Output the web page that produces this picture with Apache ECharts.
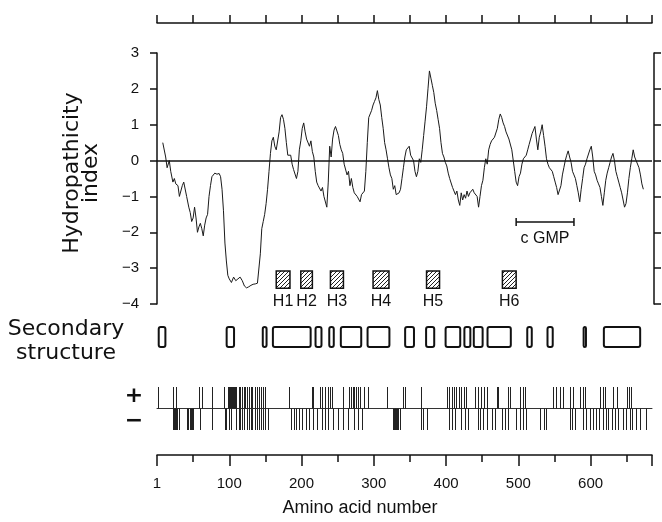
<!DOCTYPE html>
<html><head><meta charset="utf-8">
<script src="https://cdn.jsdelivr.net/npm/echarts@6/dist/echarts.min.js"></script>
<style>html,body{margin:0;padding:0;background:#fff}#c{width:662px;height:522px}</style>
</head><body><div id="c"></div>
<script>
// ---- data ----
const hydroRes = [8,10,12,14,15,17,19,22,24,26,29,31,33,35,37,39,41,44,46,48,50,52,54,56,58,60,62,64,66,68,70,72,74,76,78,80,83,86,88,90,92,94,96,98,100,103,106,109,112,115,118,121,124,127,130,133,136,139,141,143,145,147,149,151,153,155,157,159,161,163,165,167,169,171,173,175,177,179,181,183,185,187,189,191,193,195,197,199,201,203,205,207,209,211,213,215,217,219,221,223,225,227,229,231,233,235,237,239,241,243,245,247,249,251,253,255,257,259,261,263,265,267,269,271,273,275,277,279,281,283,285,287,289,291,293,295,297,299,301,303,305,307,309,311,313,315,317,319,321,323,325,327,329,331,333,335,337,339,341,343,345,347,349,351,353,355,357,359,361,363,365,367,369,371,373,375,377,379,381,383,385,387,389,391,393,395,397,399,401,403,405,407,409,411,413,415,417,419,421,423,425,427,429,431,433,435,437,439,441,443,445,447,449,451,453,455,457,459,461,463,465,467,469,471,473,475,477,479,481,483,485,487,489,491,493,495,497,499,501,503,505,507,509,511,513,515,517,519,521,523,525,527,529,531,533,535,537,539,541,543,545,547,549,551,553,555,557,559,561,563,565,567,569,571,573,575,577,579,581,583,585,587,589,591,593,595,597,599,601,603,605,607,609,611,613,615,617,619,621,623,625,627,629,631,633,635,637,639,641,643,645,647,649,651,653,655,657,659,661,663,665,667,669,671,673];
const hydroVal = [0.5,0.45,0.1,-0.2,-0.25,0.0,-0.3,-0.6,-0.5,-0.65,-0.7,-1.0,-0.95,-0.7,-0.6,-0.65,-1.0,-1.3,-1.45,-1.7,-1.6,-1.3,-1.6,-2.0,-1.85,-1.75,-1.9,-2.1,-1.8,-1.6,-1.5,-1.0,-0.7,-0.45,-0.4,-0.35,-0.38,-0.36,-0.45,-0.8,-1.4,-2.3,-2.8,-3.2,-3.3,-3.4,-3.25,-3.35,-3.3,-3.25,-3.35,-3.5,-3.55,-3.52,-3.48,-3.45,-3.44,-3.42,-3.4,-2.6,-1.9,-1.7,-1.5,-1.2,-0.8,-0.3,0.2,0.55,0.65,0.4,0.3,0.35,0.8,1.2,1.28,1.15,0.9,0.5,0.15,0.1,0.15,-0.1,-0.25,-0.2,-0.5,-0.3,0.3,0.55,0.9,1.05,0.8,0.6,0.55,0.4,0.55,0.25,0.1,-0.3,-0.6,-0.7,-0.65,-0.85,-0.75,-1.0,-1.05,-1.3,-0.6,0.4,0.1,0.6,0.85,0.95,0.9,0.7,0.45,0.3,0.2,-0.1,-0.05,-0.4,-0.3,-0.7,-0.5,-0.75,-0.9,-0.85,-1.0,-1.05,-1.15,-0.95,-0.9,-0.85,-0.3,0.5,1.2,1.3,1.4,1.55,1.65,1.75,1.95,1.7,1.55,1.2,0.9,0.5,0.3,0.05,-0.2,-0.4,-0.5,-0.8,-0.7,-0.95,-1.0,-0.9,-0.8,-0.5,-0.2,0.1,0.3,0.25,0.4,0.15,0.2,0.0,-0.3,-0.45,-0.3,0.05,-0.05,0.3,0.7,1.1,1.5,2.0,2.5,2.3,2.1,1.9,1.6,1.4,1.15,0.9,0.5,0.2,0.1,-0.05,-0.15,-0.35,-0.5,-0.45,-0.75,-0.8,-0.95,-0.85,-1.1,-1.25,-0.9,-1.1,-0.95,-1.05,-0.85,-1.0,-0.9,-0.95,-0.8,-0.9,-0.95,-1.0,-1.3,-1.0,-0.7,-0.55,-0.2,0.05,-0.1,0.3,0.45,0.55,0.5,0.65,0.6,0.9,1.15,1.3,1.2,1.05,0.95,0.8,0.75,0.6,0.55,0.3,0.0,-0.3,-0.6,-0.7,-0.45,-0.35,-0.1,0.05,0.1,0.15,0.3,0.45,0.6,0.75,0.85,0.95,0.6,0.3,0.65,0.8,1.0,0.7,0.4,0.05,-0.1,-0.2,-0.15,-0.3,-0.45,-0.6,-0.75,-0.95,-1.0,-0.7,-0.4,-0.2,0.0,0.15,0.27,0.1,-0.05,-0.3,-0.4,-0.5,-0.7,-0.9,-1.15,-0.8,-0.5,-0.2,-0.1,0.05,0.1,0.3,0.4,0.1,-0.3,-0.4,-0.55,-0.65,-0.75,-1.0,-1.25,-0.9,-0.55,-0.35,-0.2,-0.05,0.1,0.2,0.0,-0.3,-0.45,-0.6,-0.75,-0.9,-1.1,-1.3,-1.2,-0.9,-0.5,-0.2,0.05,0.3,0.1,0.0,-0.05,-0.2,-0.4,-0.65,-0.8];

const helixLabels = ['H1','H2','H3','H4','H5','H6'];
const helixStart = [165,199,240,299,373,478];
const helixEnd   = [184,215,258,321,391,497];

const cgmpStart = 497, cgmpEnd = 577, cgmpLabel = 'c GMP';

const secStart = [1,95,145,159,218,237,253,290,342,371,398,424,437,456,511,539,589,617];
const secEnd   = [13,108,153,214,229,246,284,323,357,385,421,435,452,491,520,549,595,670];

const posCharges = [2,22,26,58,62,76,93,98,99,100,101,102,103,104,105,106,107,108,110,113,115,117,120,122,125,127,130,132,135,138,141,144,147,149,182,214,216,226,229,232,236,239,242,258,266,268,271,273,276,278,281,286,292,318,340,343,366,401,404,408,411,414,418,421,425,428,440,444,448,452,456,470,472,486,489,502,506,509,548,552,557,562,571,575,585,589,592,613,617,620,631,636,650,653,656];
const negCharges = [22,23,24,25,26,27,30,41,42,43,45,47,48,50,60,76,94,95,96,99,102,110,113,115,118,121,124,127,130,132,135,138,141,144,147,150,154,186,189,193,196,200,206,211,216,221,228,232,237,244,251,258,265,272,278,283,327,328,329,330,331,332,334,336,366,368,373,404,408,412,421,426,431,444,447,451,456,463,468,477,481,486,497,502,506,511,530,535,539,571,574,578,589,594,599,603,608,612,617,621,624,629,634,638,645,649,654,658,663,668,677];

const xTicksLabelled = [100,200,300,400,500,600];

// ---- chart ----
const XMAX = 685;
const LBL_FONT = '"Liberation Sans Narrow","Liberation Sans",Arial,sans-serif';
const chart = echarts.init(document.getElementById('c'), null, {renderer:'canvas'});

const hatch = document.createElement('canvas');
hatch.width = 4; hatch.height = 4;
(function(){const g=hatch.getContext('2d');g.fillStyle='#fff';g.fillRect(0,0,4,4);g.strokeStyle='#222';g.lineWidth=1;
g.beginPath();g.moveTo(-1,5);g.lineTo(5,-1);g.stroke();})();

const blackLine = {show:true, lineStyle:{color:'#111', width:1.5}};
const gl = 157, gw = 495;

const option = {
  animation:false,
  backgroundColor:'#fff',
  grid:[
    {left:gl, width:gw, top:13, height:10},
    {left:gl, width:gw, top:53, height:251},
    {left:gl, width:gw, top:326, height:22},
    {left:gl, width:gw, top:387, height:43},
    {left:gl, width:gw, top:445, height:10}
  ],
  xAxis:[
    {gridIndex:0, type:'value', min:0, max:XMAX, interval:50, position:'bottom', axisLine:blackLine,
     axisTick:{show:true, inside:true, length:8, lineStyle:{color:'#111', width:1.5}}, axisLabel:{show:false}, splitLine:{show:false}},
    {gridIndex:1, type:'value', min:0, max:XMAX, show:false},
    {gridIndex:2, type:'value', min:0, max:XMAX, show:false},
    {gridIndex:3, type:'value', min:0, max:XMAX, axisLine:{show:true, onZero:true, lineStyle:{color:'#333', width:1}},
     axisTick:{show:false}, axisLabel:{show:false}, splitLine:{show:false}},
    {gridIndex:4, type:'value', min:0, max:XMAX, interval:100, position:'bottom', axisLine:blackLine,
     axisTick:{show:true, length:11, lineStyle:{color:'#111', width:1.5}},
     axisLabel:{show:true, margin:21, fontSize:15, color:'#111', fontFamily:LBL_FONT,
       formatter:v => v===0 ? '1' : (xTicksLabelled.indexOf(v)>=0 ? String(v) : '')},
     splitLine:{show:false}},
    {gridIndex:4, type:'value', min:0, max:XMAX, interval:50, position:'bottom', axisLine:{show:false},
     axisTick:{show:true, length:7, lineStyle:{color:'#111', width:1.5}}, axisLabel:{show:false}, splitLine:{show:false}}
  ],
  yAxis:[
    {gridIndex:0, show:false, min:0, max:1},
    {gridIndex:1, type:'value', min:-4, max:3, interval:1, position:'left', offset:2, axisLine:blackLine,
     axisTick:{show:true, length:7, lineStyle:{color:'#111', width:1.5}},
     axisLabel:{show:true, margin:16, fontSize:15, color:'#111', fontFamily:LBL_FONT, formatter:v => String(v).replace('-','\u2212')},
     splitLine:{show:false}},
    {gridIndex:1, type:'value', min:-4, max:3, interval:1, position:'right', offset:2, axisLine:blackLine,
     axisTick:{show:true, length:7, lineStyle:{color:'#111', width:1.5}}, axisLabel:{show:false}, splitLine:{show:false}},
    {gridIndex:2, show:false, min:0, max:1},
    {gridIndex:3, show:false, min:-1, max:1},
    {gridIndex:4, show:false, min:0, max:1}
  ],
  series:[
    {type:'line', xAxisIndex:1, yAxisIndex:1, showSymbol:false, symbol:'none',
     data: hydroRes.map((r,i)=>[r, hydroVal[i]]),
     lineStyle:{color:'#1a1a1a', width:1},
     markLine:{silent:true, symbol:'none', label:{show:false}, lineStyle:{color:'#111', width:1.5, type:'solid'},
       data:[{yAxis:0}]}},
    {type:'custom', xAxisIndex:1, yAxisIndex:1,
     data: helixStart.map((s,i)=>[s, helixEnd[i]]),
     renderItem:(params, api)=>{
       const p0 = api.coord([api.value(0), -3.08]);
       const p1 = api.coord([api.value(1), -3.56]);
       const pm = api.coord([(api.value(0)+api.value(1))/2, -3.92]);
       return {type:'group', children:[
         {type:'rect', shape:{x:p0[0], y:p0[1], width:p1[0]-p0[0], height:p1[1]-p0[1]},
          style:{fill:{image:hatch, repeat:'repeat'}, stroke:'#111', lineWidth:1.5}},
         {type:'text', x:pm[0], y:pm[1], style:{text:helixLabels[params.dataIndex], fill:'#111',
           font:'16px '+LBL_FONT, textAlign:'center', textVerticalAlign:'middle'}}
       ]};
     }},
    {type:'custom', xAxisIndex:1, yAxisIndex:1, data:[[cgmpStart, cgmpEnd]],
     renderItem:(params, api)=>{
       const a = api.coord([api.value(0), -1.71]);
       const b = api.coord([api.value(1), -1.71]);
       const t = api.coord([(api.value(0)+api.value(1))/2, -2.17]);
       const st = {stroke:'#111', lineWidth:1.5};
       return {type:'group', children:[
         {type:'line', shape:{x1:a[0], y1:a[1], x2:b[0], y2:b[1]}, style:st},
         {type:'line', shape:{x1:a[0], y1:a[1]-4, x2:a[0], y2:a[1]+4}, style:st},
         {type:'line', shape:{x1:b[0], y1:b[1]-4, x2:b[0], y2:b[1]+4}, style:st},
         {type:'text', x:t[0], y:t[1], style:{text:cgmpLabel, fill:'#111', font:'16px "Liberation Sans",Arial,sans-serif',
           textAlign:'center', textVerticalAlign:'middle'}}
       ]};
     }},
    {type:'custom', xAxisIndex:2, yAxisIndex:3,
     data: secStart.map((s,i)=>[s, secEnd[i]]),
     renderItem:(params, api)=>{
       const p0 = api.coord([api.value(0), 1]);
       const p1 = api.coord([api.value(1), 0]);
       return {type:'rect', shape:{x:p0[0]+1, y:p0[1]+1, width:p1[0]-p0[0]-2, height:p1[1]-p0[1]-2, r:2},
         style:{fill:'#fff', stroke:'#111', lineWidth:2}};
     }},
    {type:'custom', xAxisIndex:3, yAxisIndex:4,
     data: posCharges.map(r=>[r, 1]).concat(negCharges.map(r=>[r, -1])),
     renderItem:(params, api)=>{
       const a = api.coord([api.value(0), 0]);
       const b = api.coord([api.value(0), api.value(1)]);
       const x = Math.round(a[0]) + 0.5;
       return {type:'line', shape:{x1:x, y1:a[1], x2:x, y2:b[1]}, style:{stroke:'#222', lineWidth:1}};
     }}
  ],
  graphic:[
    {type:'text', x:72, y:173, rotation:Math.PI/2, style:{text:'Hydropathicity', fill:'#111',
      font:'22px "DejaVu Sans",sans-serif', textAlign:'center', textVerticalAlign:'middle'}},
    {type:'text', x:91, y:173, rotation:Math.PI/2, style:{text:'index', fill:'#111',
      font:'22px "DejaVu Sans",sans-serif', textAlign:'center', textVerticalAlign:'middle'}},
    {type:'text', x:66, y:329, style:{text:'Secondary', fill:'#111', font:'22px "DejaVu Sans",sans-serif',
      textAlign:'center', textVerticalAlign:'middle'}},
    {type:'text', x:66, y:353, style:{text:'structure', fill:'#111', font:'22px "DejaVu Sans",sans-serif',
      textAlign:'center', textVerticalAlign:'middle'}},
    {type:'text', x:134, y:396, style:{text:'+', fill:'#111', font:'bold 22px "DejaVu Sans",sans-serif',
      textAlign:'center', textVerticalAlign:'middle'}},
    {type:'text', x:134, y:421, style:{text:'\u2212', fill:'#111', font:'bold 22px "DejaVu Sans",sans-serif',
      textAlign:'center', textVerticalAlign:'middle'}},
    {type:'text', x:360, y:508, style:{text:'Amino acid number', fill:'#111', font:'18px "Liberation Sans",Arial,sans-serif',
      textAlign:'center', textVerticalAlign:'middle'}}
  ]
};
chart.setOption(option);
</script>
</body></html>
